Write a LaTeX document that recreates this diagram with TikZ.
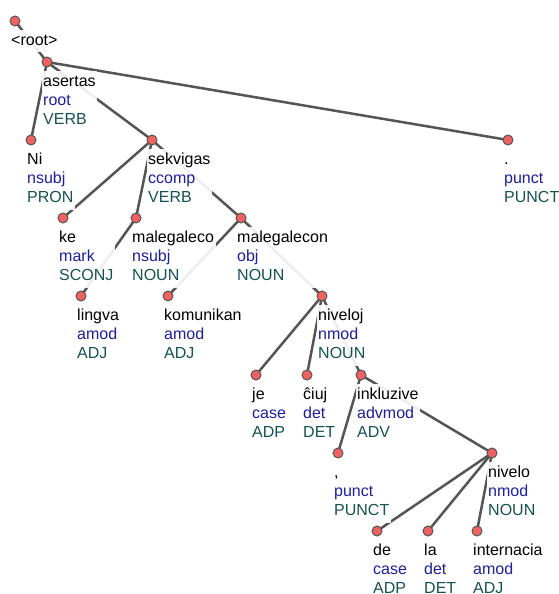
\documentclass[tikz,border=0pt]{standalone}
\usepackage{fontspec}
\setmainfont{Liberation Sans}
\usepackage{xcolor}
\usepackage{tikz}
\definecolor{edgegray}{RGB}{85,85,85}
\definecolor{dotred}{RGB}{240,98,98}
\definecolor{relblue}{RGB}{30,30,160}
\definecolor{posteal}{RGB}{22,82,82}

\begin{document}
\begin{tikzpicture}[x=1pt,y=-1pt,
    dep/.style={line width=2.5pt,edgegray},
    lab/.style={anchor=north west,xshift=-5.5pt,yshift=-9.06pt,align=left,inner sep=1.5pt,
      fill=white,fill opacity=0.9,text opacity=1,font=\fontsize{16}{19.2}\selectfont},
    tokdot/.style={circle,fill=dotred,draw=edgegray,line width=1pt,inner sep=0pt,minimum size=10pt}]
  \useasboundingbox (0,0) rectangle (558,594);
  % token positions
  \coordinate (root) at (15,21);
  \coordinate (asertas) at (47,62);
  \coordinate (ni) at (31,140);
  \coordinate (sekvigas) at (152,140);
  \coordinate (punkto) at (508,140);
  \coordinate (ke) at (63,218);
  \coordinate (malegaleco) at (136,218);
  \coordinate (malegalecon) at (241,218);
  \coordinate (lingva) at (81,296);
  \coordinate (komunikan) at (168,296);
  \coordinate (niveloj) at (322,296);
  \coordinate (je) at (256,375);
  \coordinate (ciuj) at (307,375);
  \coordinate (inkluzive) at (361,375);
  \coordinate (komo) at (338,453);
  \coordinate (nivelo) at (492,453);
  \coordinate (de) at (377,531);
  \coordinate (la) at (428,531);
  \coordinate (internacia) at (477,531);
  % dependencies
  \draw[dep] (root) -- (asertas);
  \draw[dep] (asertas) -- (ni);
  \draw[dep] (asertas) -- (sekvigas);
  \draw[dep] (asertas) -- (punkto);
  \draw[dep] (sekvigas) -- (ke);
  \draw[dep] (sekvigas) -- (malegaleco);
  \draw[dep] (sekvigas) -- (malegalecon);
  \draw[dep] (malegaleco) -- (lingva);
  \draw[dep] (malegalecon) -- (komunikan);
  \draw[dep] (malegalecon) -- (niveloj);
  \draw[dep] (niveloj) -- (je);
  \draw[dep] (niveloj) -- (ciuj);
  \draw[dep] (niveloj) -- (inkluzive);
  \draw[dep] (inkluzive) -- (komo);
  \draw[dep] (inkluzive) -- (nivelo);
  \draw[dep] (nivelo) -- (de);
  \draw[dep] (nivelo) -- (la);
  \draw[dep] (nivelo) -- (internacia);
  % labels
  \node[lab] (rootL) at (root) {\strut<root>};
  \node[lab] (asertasL) at (asertas) {\strut asertas\\\strut\textcolor{relblue}{root}\\\strut\textcolor{posteal}{VERB}};
  \node[lab] (niL) at (ni) {\strut Ni\\\strut\textcolor{relblue}{nsubj}\\\strut\textcolor{posteal}{PRON}};
  \node[lab] (sekvigasL) at (sekvigas) {\strut sekvigas\\\strut\textcolor{relblue}{ccomp}\\\strut\textcolor{posteal}{VERB}};
  \node[lab] (punktoL) at (punkto) {\strut .\\\strut\textcolor{relblue}{punct}\\\strut\textcolor{posteal}{PUNCT}};
  \node[lab] (keL) at (ke) {\strut ke\\\strut\textcolor{relblue}{mark}\\\strut\textcolor{posteal}{SCONJ}};
  \node[lab] (malegalecoL) at (malegaleco) {\strut malegaleco\\\strut\textcolor{relblue}{nsubj}\\\strut\textcolor{posteal}{NOUN}};
  \node[lab] (malegaleconL) at (malegalecon) {\strut malegalecon\\\strut\textcolor{relblue}{obj}\\\strut\textcolor{posteal}{NOUN}};
  \node[lab] (lingvaL) at (lingva) {\strut lingva\\\strut\textcolor{relblue}{amod}\\\strut\textcolor{posteal}{ADJ}};
  \node[lab] (komunikanL) at (komunikan) {\strut komunikan\\\strut\textcolor{relblue}{amod}\\\strut\textcolor{posteal}{ADJ}};
  \node[lab] (nivelojL) at (niveloj) {\strut niveloj\\\strut\textcolor{relblue}{nmod}\\\strut\textcolor{posteal}{NOUN}};
  \node[lab] (jeL) at (je) {\strut je\\\strut\textcolor{relblue}{case}\\\strut\textcolor{posteal}{ADP}};
  \node[lab] (ciujL) at (ciuj) {\strut ĉiuj\\\strut\textcolor{relblue}{det}\\\strut\textcolor{posteal}{DET}};
  \node[lab] (inkluziveL) at (inkluzive) {\strut inkluzive\\\strut\textcolor{relblue}{advmod}\\\strut\textcolor{posteal}{ADV}};
  \node[lab] (komoL) at (komo) {\strut ,\\\strut\textcolor{relblue}{punct}\\\strut\textcolor{posteal}{PUNCT}};
  \node[lab] (niveloL) at (nivelo) {\strut nivelo\\\strut\textcolor{relblue}{nmod}\\\strut\textcolor{posteal}{NOUN}};
  \node[lab] (deL) at (de) {\strut de\\\strut\textcolor{relblue}{case}\\\strut\textcolor{posteal}{ADP}};
  \node[lab] (laL) at (la) {\strut la\\\strut\textcolor{relblue}{det}\\\strut\textcolor{posteal}{DET}};
  \node[lab] (internaciaL) at (internacia) {\strut internacia\\\strut\textcolor{relblue}{amod}\\\strut\textcolor{posteal}{ADJ}};
  % dots
  \foreach \t in {root,asertas,ni,sekvigas,punkto,ke,malegaleco,malegalecon,lingva,komunikan,
      niveloj,je,ciuj,inkluzive,komo,nivelo,de,la,internacia}
    \node[tokdot] (\t D) at (\t) {};
\end{tikzpicture}
\end{document}
